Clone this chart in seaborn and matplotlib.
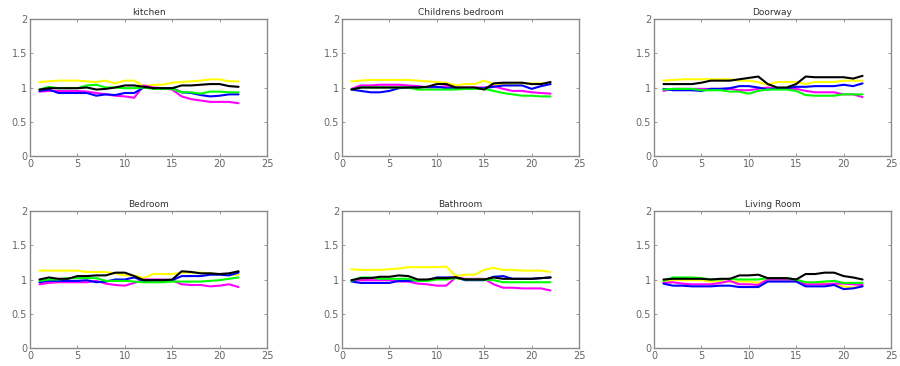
import numpy as np
import pandas as pd
import matplotlib
matplotlib.use("Agg")
import matplotlib.pyplot as plt
import seaborn as sns

x = list(range(1, 23))
titles = ["kitchen", "Childrens bedroom", "Doorway", "Bedroom", "Bathroom", "Living Room"]
series_names = ["yellow", "magenta", "blue", "green", "black"]
colors = {"yellow": "#ffff00", "magenta": "#ff00ff", "blue": "#0000ff",
          "green": "#00ff00", "black": "#000000"}

kitchen = {
    "yellow":  [1.08, 1.09, 1.10, 1.10, 1.10, 1.09, 1.08, 1.10, 1.06, 1.10, 1.10, 1.02, 1.04, 1.04, 1.07, 1.08, 1.09, 1.10, 1.12, 1.12, 1.09, 1.09],
    "magenta": [0.94, 0.95, 0.95, 0.95, 0.95, 0.94, 0.92, 0.90, 0.88, 0.87, 0.85, 1.03, 1.00, 0.99, 0.97, 0.87, 0.83, 0.81, 0.79, 0.79, 0.79, 0.77],
    "blue":    [0.95, 0.97, 0.92, 0.92, 0.92, 0.92, 0.88, 0.90, 0.89, 0.92, 0.92, 1.00, 0.99, 0.99, 0.99, 0.93, 0.92, 0.89, 0.87, 0.88, 0.90, 0.90],
    "green":   [0.97, 1.01, 0.99, 0.99, 0.99, 1.03, 1.04, 1.00, 1.00, 0.99, 0.99, 1.00, 0.98, 0.98, 0.98, 0.93, 0.93, 0.91, 0.94, 0.94, 0.93, 0.93],
    "black":   [0.97, 0.99, 0.99, 0.99, 0.99, 1.00, 0.97, 0.98, 1.00, 1.03, 1.03, 1.01, 0.99, 0.99, 0.99, 1.03, 1.03, 1.04, 1.05, 1.05, 1.02, 1.01],
}
childrens_bedroom = {
    "yellow":  [1.09, 1.10, 1.11, 1.11, 1.11, 1.11, 1.11, 1.10, 1.09, 1.08, 1.07, 1.03, 1.05, 1.05, 1.10, 1.05, 1.05, 1.05, 1.06, 1.06, 1.06, 1.06],
    "magenta": [0.98, 1.03, 1.03, 1.04, 1.04, 1.04, 1.03, 1.02, 1.00, 1.00, 1.02, 1.00, 1.00, 1.00, 1.00, 1.02, 0.98, 0.95, 0.95, 0.93, 0.92, 0.91],
    "blue":    [0.97, 0.95, 0.93, 0.93, 0.95, 0.99, 1.00, 1.00, 1.01, 1.01, 0.99, 0.99, 0.99, 0.99, 0.99, 1.01, 1.03, 1.03, 1.03, 0.98, 1.02, 1.05],
    "green":   [0.97, 1.00, 1.00, 1.00, 1.00, 1.00, 1.00, 0.97, 0.97, 0.97, 0.97, 0.97, 0.98, 0.98, 0.98, 0.95, 0.92, 0.90, 0.88, 0.88, 0.87, 0.87],
    "black":   [0.97, 1.00, 1.00, 1.00, 1.00, 1.00, 1.00, 1.00, 1.01, 1.05, 1.05, 1.00, 1.00, 1.00, 0.97, 1.06, 1.07, 1.07, 1.07, 1.05, 1.05, 1.08],
}
doorway = {
    "yellow":  [1.10, 1.11, 1.12, 1.12, 1.12, 1.12, 1.12, 1.12, 1.10, 1.10, 1.08, 1.04, 1.08, 1.08, 1.08, 1.05, 1.08, 1.08, 1.08, 1.10, 1.10, 1.10],
    "magenta": [0.95, 0.98, 0.98, 0.98, 0.98, 0.98, 0.98, 0.98, 0.96, 0.96, 0.98, 1.00, 0.98, 0.98, 0.98, 0.95, 0.93, 0.93, 0.93, 0.90, 0.90, 0.86],
    "blue":    [0.98, 0.96, 0.96, 0.96, 0.95, 0.98, 0.98, 0.99, 1.02, 1.02, 1.00, 0.97, 0.99, 0.99, 1.01, 1.01, 1.02, 1.02, 1.02, 1.04, 1.02, 1.06],
    "green":   [0.97, 0.98, 0.98, 0.98, 0.96, 0.96, 0.96, 0.94, 0.94, 0.91, 0.95, 0.97, 0.97, 0.97, 0.95, 0.89, 0.88, 0.88, 0.88, 0.90, 0.90, 0.90],
    "black":   [1.05, 1.05, 1.05, 1.05, 1.07, 1.10, 1.10, 1.10, 1.12, 1.14, 1.16, 1.05, 1.00, 1.00, 1.05, 1.16, 1.15, 1.15, 1.15, 1.15, 1.13, 1.17],
}
bedroom = {
    "yellow":  [1.13, 1.13, 1.13, 1.13, 1.13, 1.11, 1.11, 1.11, 1.09, 1.06, 1.06, 1.02, 1.08, 1.08, 1.08, 1.10, 1.10, 1.10, 1.09, 1.07, 1.07, 1.07],
    "magenta": [0.93, 0.95, 0.96, 0.96, 0.96, 0.96, 0.98, 0.94, 0.92, 0.91, 0.95, 1.00, 1.00, 1.00, 0.99, 0.93, 0.92, 0.92, 0.90, 0.91, 0.93, 0.89],
    "blue":    [0.96, 0.98, 0.98, 0.98, 0.98, 0.99, 0.96, 0.97, 1.00, 1.00, 1.03, 0.98, 0.99, 0.99, 0.99, 1.05, 1.05, 1.05, 1.07, 1.07, 1.06, 1.10],
    "green":   [0.98, 1.00, 1.00, 1.02, 1.02, 1.02, 1.02, 0.98, 0.98, 0.98, 0.97, 0.96, 0.96, 0.96, 0.97, 0.97, 0.97, 0.97, 0.98, 0.99, 1.01, 1.03],
    "black":   [1.00, 1.03, 1.01, 1.01, 1.05, 1.05, 1.06, 1.06, 1.10, 1.10, 1.05, 0.99, 0.99, 0.99, 1.00, 1.12, 1.11, 1.09, 1.09, 1.08, 1.09, 1.12],
}
bathroom = {
    "yellow":  [1.15, 1.14, 1.14, 1.14, 1.15, 1.16, 1.18, 1.18, 1.18, 1.18, 1.19, 1.05, 1.07, 1.07, 1.14, 1.17, 1.14, 1.14, 1.13, 1.13, 1.13, 1.11],
    "magenta": [0.99, 0.99, 0.99, 0.99, 0.99, 0.97, 0.97, 0.94, 0.93, 0.91, 0.91, 1.03, 1.01, 1.01, 1.01, 0.93, 0.88, 0.88, 0.87, 0.87, 0.87, 0.84],
    "blue":    [0.97, 0.95, 0.95, 0.95, 0.95, 0.98, 0.98, 0.99, 0.99, 1.03, 1.03, 1.03, 0.99, 0.99, 0.99, 1.04, 1.05, 1.01, 1.01, 1.01, 1.02, 1.03],
    "green":   [0.98, 1.03, 1.03, 1.01, 1.01, 1.01, 1.01, 0.98, 0.98, 1.00, 1.00, 1.02, 1.00, 1.00, 1.00, 0.99, 0.96, 0.96, 0.96, 0.96, 0.96, 0.96],
    "black":   [0.99, 1.02, 1.02, 1.04, 1.04, 1.06, 1.05, 1.00, 1.00, 1.02, 1.02, 1.03, 1.00, 1.00, 1.00, 1.03, 1.01, 1.01, 1.01, 1.01, 1.02, 1.03],
}
living_room = {
    "yellow":  [0.97, 0.99, 0.99, 0.99, 0.99, 0.97, 0.97, 0.97, 0.97, 0.97, 0.95, 1.00, 1.00, 1.00, 0.99, 0.95, 0.95, 0.95, 0.93, 0.90, 0.88, 0.91],
    "magenta": [0.95, 0.96, 0.94, 0.93, 0.93, 0.93, 0.95, 0.98, 0.93, 0.93, 0.92, 1.00, 1.00, 1.00, 1.00, 0.93, 0.93, 0.93, 0.94, 0.94, 0.93, 0.92],
    "blue":    [0.94, 0.91, 0.91, 0.90, 0.90, 0.90, 0.91, 0.91, 0.89, 0.89, 0.89, 0.97, 0.97, 0.97, 0.97, 0.90, 0.90, 0.90, 0.92, 0.86, 0.87, 0.90],
    "green":   [0.98, 1.03, 1.03, 1.03, 1.02, 1.00, 1.00, 1.01, 1.00, 1.00, 1.00, 1.02, 1.02, 1.02, 1.00, 0.96, 0.96, 0.97, 0.98, 0.95, 0.95, 0.95],
    "black":   [1.00, 1.01, 1.01, 1.01, 1.01, 1.00, 1.01, 1.01, 1.06, 1.06, 1.07, 1.02, 1.02, 1.02, 1.00, 1.08, 1.08, 1.10, 1.10, 1.05, 1.03, 1.00],
}
rooms = [kitchen, childrens_bedroom, doorway, bedroom, bathroom, living_room]

sns.set_theme(style="white")
plt.rcParams["font.family"] = ["DejaVu Sans"]

W, H = 900, 366
fig = plt.figure(figsize=(9, 3.66), dpi=100)
lefts = [30, 342, 654]
tops = [19, 211]
aw, ah = 237, 137
gray = "#8a8a8a"

for i, (title, room) in enumerate(zip(titles, rooms)):
    r, c = divmod(i, 3)
    l = lefts[c]
    t = tops[r]
    ax = fig.add_axes([l / W, (H - t - ah) / H, aw / W, ah / H])
    rows = []
    for s in series_names:
        for xi, yi in zip(x, room[s]):
            rows.append({"x": xi, "y": yi, "series": s})
    df = pd.DataFrame(rows)
    sns.lineplot(data=df, x="x", y="y", hue="series", hue_order=series_names,
                 palette=colors, linewidth=1.5, legend=False, ax=ax)
    ax.set_xlim(0, 25)
    ax.set_ylim(0, 2)
    ax.set_xticks([0, 5, 10, 15, 20, 25])
    ax.set_yticks([0, 0.5, 1, 1.5, 2])
    ax.set_yticklabels(["0", "0.5", "1", "1.5", "2"])
    ax.set_xlabel("")
    ax.set_ylabel("")
    ax.set_title(title, fontsize=6.5, color="#333333", pad=3)
    for sp in ax.spines.values():
        sp.set_color(gray)
        sp.set_linewidth(1.0)
    ax.tick_params(axis="both", direction="in", length=2, width=0.6, color=gray,
                   labelsize=7, labelcolor="#666666", pad=2,
                   top=True, right=True, bottom=True, left=True)

fig.savefig("out.png", dpi=100, facecolor="white")
